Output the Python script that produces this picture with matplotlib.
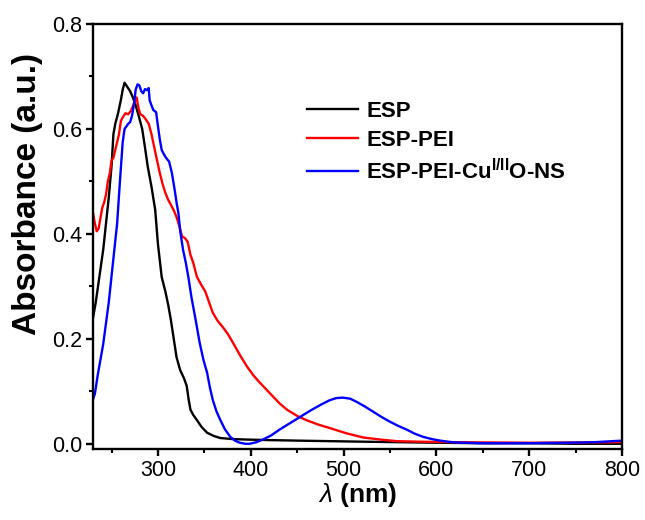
import matplotlib
matplotlib.use('Agg')
import matplotlib.pyplot as plt
from matplotlib.ticker import MultipleLocator

plt.rcParams['font.family'] = ['Liberation Sans', 'DejaVu Sans']
plt.rcParams['mathtext.fontset'] = 'custom'
plt.rcParams['mathtext.rm'] = 'Liberation Sans'
plt.rcParams['mathtext.it'] = 'Liberation Sans:italic'
plt.rcParams['mathtext.bf'] = 'Liberation Sans:bold'

# ESP
esp_wl = [230, 233, 237, 241, 244, 247, 250, 252, 254, 257, 260, 262, 264, 267, 270,
          273, 276, 280, 283, 286, 289, 293, 297, 300, 304, 308, 311, 314, 317, 320,
          324, 328, 331, 333, 335, 338, 342, 347, 353, 360, 367, 380, 396, 420, 450,
          485, 520, 560, 600, 650, 700, 750, 800]
esp_abs = [0.24, 0.27, 0.32, 0.37, 0.42, 0.47, 0.53, 0.59, 0.61, 0.63, 0.655, 0.675, 0.688,
           0.68, 0.672, 0.66, 0.645, 0.62, 0.60, 0.565, 0.528, 0.49, 0.446, 0.38, 0.318,
           0.29, 0.265, 0.235, 0.2, 0.165, 0.14, 0.125, 0.11, 0.085, 0.065, 0.055, 0.045,
           0.032, 0.021, 0.015, 0.011, 0.009, 0.008, 0.007, 0.006, 0.005, 0.004, 0.003,
           0.002, 0.001, 0.001, 0.0, 0.0]

# ESP-PEI
pei_wl = [230, 232, 234, 236, 238, 240, 242, 244, 246, 248, 250, 252, 254, 256, 258,
          260, 262, 265, 268, 271, 274, 277, 279, 281, 284, 287, 290, 293, 296, 299,
          302, 305, 308, 311, 314, 317, 320, 323, 326, 329, 332, 335, 338, 342, 346,
          351, 355, 359, 364, 370, 375, 381, 388, 396, 403, 410, 417, 424, 431, 439,
          450, 460, 472, 485, 503, 521, 540, 557, 580, 620, 700, 800]
pei_abs = [0.44, 0.42, 0.405, 0.41, 0.43, 0.45, 0.46, 0.475, 0.5, 0.515, 0.54, 0.545,
           0.56, 0.575, 0.59, 0.615, 0.622, 0.63, 0.628, 0.635, 0.648, 0.66, 0.64, 0.628,
           0.625, 0.618, 0.61, 0.59, 0.565, 0.54, 0.516, 0.495, 0.478, 0.465, 0.455,
           0.445, 0.432, 0.415, 0.395, 0.392, 0.385, 0.36, 0.345, 0.318, 0.305, 0.29,
           0.27, 0.25, 0.235, 0.222, 0.21, 0.192, 0.17, 0.147, 0.13, 0.116, 0.103, 0.09,
           0.077, 0.065, 0.053, 0.045, 0.037, 0.03, 0.02, 0.012, 0.008, 0.005, 0.004,
           0.003, 0.002, 0.003]

# ESP-PEI-CuO-NS
cu_wl = [230, 232, 235, 238, 241, 244, 247, 250, 253, 256, 259, 262, 264, 266, 268,
         270, 272, 274, 276, 278, 280, 282, 284, 286, 288, 290, 291, 293, 295, 298,
         300, 302, 304, 306, 308, 310, 312, 315, 318, 320, 322, 324, 327, 330, 333,
         336, 340, 345, 349, 353, 356, 359, 363, 367, 372, 378, 383, 388, 394, 399,
         406, 413, 422, 431, 442, 453, 464, 475, 485, 492, 499, 507, 514, 523, 532,
         541, 550, 559, 568, 577, 586, 595, 604, 617, 629, 650, 700, 740, 770, 800]
cu_abs = [0.085, 0.095, 0.13, 0.16, 0.19, 0.23, 0.27, 0.32, 0.37, 0.42, 0.5, 0.575, 0.6,
          0.605, 0.61, 0.613, 0.625, 0.645, 0.675, 0.685, 0.683, 0.672, 0.668, 0.676,
          0.674, 0.678, 0.655, 0.645, 0.636, 0.632, 0.605, 0.58, 0.56, 0.553, 0.547,
          0.542, 0.538, 0.516, 0.484, 0.46, 0.44, 0.405, 0.37, 0.345, 0.315, 0.28,
          0.242, 0.192, 0.16, 0.135, 0.107, 0.084, 0.062, 0.046, 0.028, 0.013, 0.006,
          0.002, 0.0, 0.0, 0.003, 0.008, 0.016, 0.027, 0.039, 0.051, 0.063, 0.074, 0.083,
          0.087, 0.088, 0.086, 0.08, 0.071, 0.061, 0.051, 0.042, 0.034, 0.027, 0.019,
          0.013, 0.009, 0.006, 0.003, 0.002, 0.001, 0.001, 0.002, 0.003, 0.006]

fig = plt.figure(figsize=(6.45, 5.2), dpi=100)
ax = fig.add_axes([0.1442, 0.1365, 0.8201, 0.8173])

ax.plot(esp_wl, esp_abs, color='black', lw=1.7, label='ESP')
ax.plot(pei_wl, pei_abs, color='#ff0000', lw=1.7, label='ESP-PEI')
ax.plot(cu_wl, cu_abs, color='#0000ff', lw=1.7, label=r'ESP-PEI-Cu$^{\mathbf{I/II}}$O-NS')

ax.set_xlim(230, 800)
ax.set_ylim(-0.01, 0.8)
ax.xaxis.set_major_locator(MultipleLocator(100))
ax.xaxis.set_minor_locator(MultipleLocator(50))
ax.yaxis.set_major_locator(MultipleLocator(0.2))
ax.yaxis.set_minor_locator(MultipleLocator(0.1))
ax.yaxis.set_major_formatter(matplotlib.ticker.FormatStrFormatter('%.1f'))

for s in ax.spines.values():
    s.set_linewidth(1.7)
ax.tick_params(which='major', direction='out', length=5, width=1.7, labelsize=15.5, pad=3)
ax.tick_params(which='minor', direction='out', length=3, width=1.5)

ax.set_xlabel(r'$\mathit{\lambda}$ $\mathbf{(nm)}$', fontsize=19, labelpad=0)
fig.text(28 / 645, 1 - 194 / 520, 'Absorbance (a.u.)', rotation=90, fontsize=24,
         fontweight='bold', ha='center', va='center')

# legend without frame, placed like the original
leg = ax.legend(loc='upper left', bbox_to_anchor=(0.384, 0.845), frameon=False,
                borderpad=0, handlelength=2.3, handletextpad=0.35, labelspacing=0.35,
                prop={'weight': 'bold', 'size': 16})

fig.savefig('out.png', dpi=100)
